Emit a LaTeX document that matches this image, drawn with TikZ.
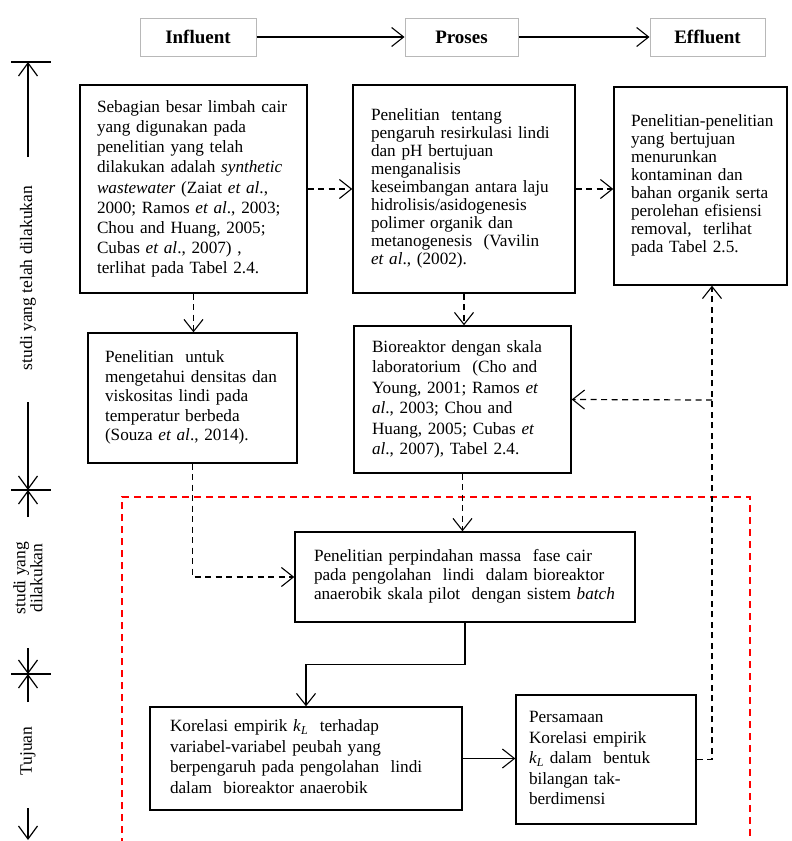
\documentclass[tikz,border=0pt]{standalone}
\usepackage{fontspec}
\setmainfont{Liberation Serif}
\usetikzlibrary{arrows.meta}
\newcommand{\etal}{\textit{et al}.}
\newcommand{\kL}{\textit{k}\textsubscript{\textit{L}}}
% lines of a box, set as one unbreakable left-aligned block
\newcommand{\boxlines}[1]{\begin{tabular}{@{}l@{}}#1\end{tabular}}
\begin{document}
\begin{tikzpicture}[x=1pt,y=-1pt,
  hdr/.style={draw=black!28,line width=1pt,font=\fontsize{19}{22}\selectfont\bfseries,
    minimum height=38pt,inner sep=0pt},
  box/.style={draw,line width=1.4pt,align=left,inner xsep=17pt,inner ysep=0pt},
  fs/.style={font=\fontsize{17.2}{#1}\selectfont},
  link/.style={line width=1.2pt,-{Straight Barb[length=12pt,width=19pt,line width=1.1pt]}},
  dlink/.style={link,dash pattern=on 6pt off 4.5pt},
  axis/.style={line width=1.3pt},
  axtip/.style={axis,-{Straight Barb[length=13pt,width=19pt,line width=1.2pt]}},
  side/.style={font=\fontsize{17.5}{17}\selectfont,rotate=90,align=center,inner sep=0pt}
]
\useasboundingbox (0,0) rectangle (792,841);

% ---- header row ----
\node[hdr,minimum width=116pt] (inf) at (198,37) {Influent};
\node[hdr,minimum width=113pt] (pro) at (461.5,37) {Proses};
\node[hdr,minimum width=115pt] (eff) at (707.5,37) {Effluent};
\draw[link,line width=1.5pt] (inf) -- (pro);
\draw[link,line width=1.5pt] (pro) -- (eff);

% ---- first row of studies ----
\node[box,fs=20.2,text width=193pt,minimum height=208pt] (A) at (193.5,189) {\boxlines{%
Sebagian besar limbah cair\\
yang digunakan pada\\
penelitian yang telah\\
dilakukan adalah \textit{synthetic}\\
\textit{wastewater} (Zaiat \etal,\\
2000; Ramos \etal, 2003;\\
Chou and Huang, 2005;\\
Cubas \etal, 2007) ,\\
terlihat pada Tabel 2.4.}};

\node[box,fs=17.9,text width=186pt,inner xsep=18pt,minimum height=208pt] (B) at (464,189) {\boxlines{%
Penelitian\ \ tentang\\
pengaruh resirkulasi lindi\\
dan pH bertujuan\\
menganalisis\\
keseimbangan antara laju\\
hidrolisis/asidogenesis\\
polimer organik dan\\
metanogenesis\ \ (Vavilin\\
\etal, (2002).}};

\node[box,fs=18,text width=139pt,minimum height=198pt] (C) at (700.5,186) {\boxlines{%
Penelitian-penelitian\\
yang bertujuan\\
menurunkan\\
kontaminan dan\\
bahan organik serta\\
perolehan efisiensi\\
removal,\ \ terlihat\\
pada Tabel 2.5.}};

% ---- second row of studies ----
\node[box,fs=19.5,text width=175pt,minimum height=130pt] (D) at (192.5,398) {\boxlines{%
Penelitian\ \ untuk\\
mengetahui densitas dan\\
viskositas lindi pada\\
temperatur berbeda\\
(Souza \etal, 2014).}};

\node[box,fs=20.5,text width=181pt,inner xsep=18pt,minimum height=147pt] (F) at (462.5,399.5) {\boxlines{%
Bioreaktor dengan skala\\
laboratorium\ \ (Cho and\\
Young, 2001; Ramos \textit{et}\\
\textit{al}., 2003; Chou and\\
Huang, 2005; Cubas \textit{et}\\
\textit{al}., 2007), Tabel 2.4.}};

% ---- current study ----
\draw[red,line width=1.1pt,dash pattern=on 7pt off 5pt]
  (122,845) -- (122,497) -- (750,497) -- (750,845);

\node[box,fs=19,text width=302pt,inner xsep=19pt,minimum height=90pt] (E) at (465,577) {\boxlines{%
Penelitian perpindahan massa\ \ fase cair\\
pada pengolahan\ \ lindi\ \ dalam bioreaktor\\
anaerobik skala pilot\ \ dengan sistem \textit{batch}}};

\node[box,fs=20.5,text width=272pt,inner xsep=20pt,minimum height=103pt] (H) at (306,758.5) {\boxlines{%
Korelasi empirik \kL\ \ terhadap\\
variabel-variabel peubah yang\\
berpengaruh pada pengolahan\ \ lindi\\
dalam\ \ bioreaktor anaerobik}};

\node[box,fs=20.5,text width=154pt,inner xsep=13pt,minimum height=129pt] (G) at (606,759.5) {\boxlines{%
Persamaan\\
Korelasi empirik\\
\kL\ dalam\ \ bentuk\\
bilangan tak-\\
berdimensi}};

% ---- connectors ----
\coordinate (jn) at (712,400);
\draw[dlink] (A.east) -- (A.east -| B.west);
\draw[dlink] (B.east) -- (B.east -| C.west);
\draw[dlink] (A.south) -- (A.south |- D.north);
\draw[dlink] (B.south) -- (B.south |- F.north);
\draw[dlink] (D.south) |- (E.west);
\draw[dlink] (F.south) -- (F.south |- E.north);
\draw[link] (E.south) -- ++(0,42) -| (H.north);
\draw[link] (H.east) -- (H.east -| G.west);
\draw[dlink] (G.east) -| (jn |- C.south);
\draw[dlink] (jn) -- (F.east);

% ---- side scale ----
\coordinate (t0) at (28,62);
\coordinate (t1) at (28,157);
\coordinate (m0) at (28,402);
\coordinate (m1) at (28,490);
\coordinate (m2) at (28,517);
\coordinate (n0) at (28,648);
\coordinate (n1) at (28,674);
\coordinate (n2) at (28,702);
\coordinate (b0) at (28,808);
\coordinate (b1) at (28,840);
\draw[axis] ([xshift=-17pt]t0) -- ([xshift=23pt]t0);
\draw[axis] ([xshift=-17pt]m1) -- ([xshift=23pt]m1);
\draw[axis] ([xshift=-17pt]n1) -- ([xshift=23pt]n1);
\draw[axtip] (t1) -- (t0);
\draw[axtip] (m0) -- (m1);
\draw[axtip] (m2) -- (m1);
\draw[axtip] (n0) -- (n1);
\draw[axtip] (n2) -- (n1);
\draw[axtip] (b0) -- (b1);

\node[side] (s1) at (28,278) {studi yang telah dilakukan};
\node[side] (s2) at (28,578) {studi yang\\dilakukan};
\node[side] (s3) at (28,751) {Tujuan};
\end{tikzpicture}
\end{document}
